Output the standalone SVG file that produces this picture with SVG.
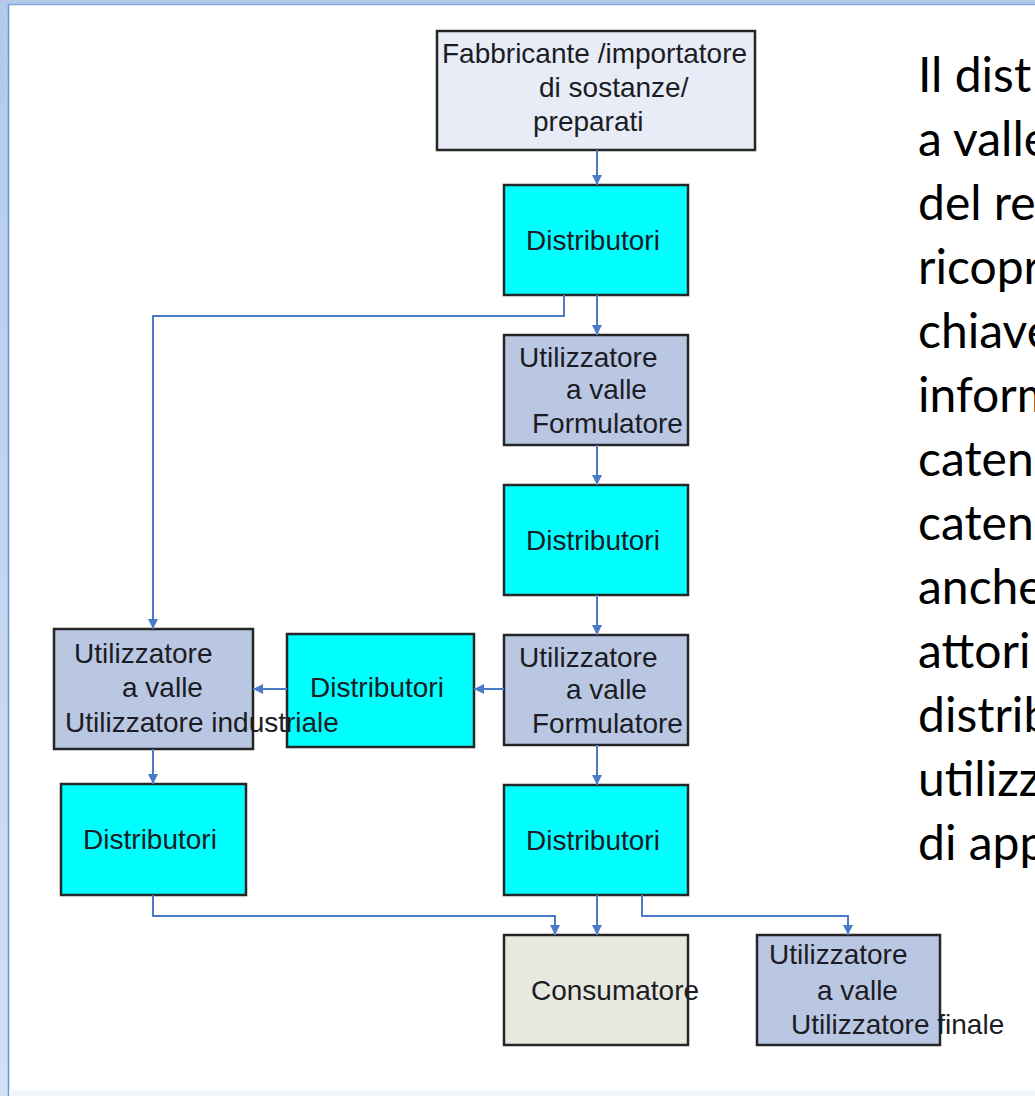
<svg xmlns="http://www.w3.org/2000/svg" width="1035" height="1096" viewBox="0 0 1035 1096">
  <defs>
    <marker id="ah" viewBox="0 0 10 10" refX="10" refY="5" markerWidth="10" markerHeight="10" markerUnits="userSpaceOnUse" orient="auto">
      <path d="M0,0 L10,5 L0,10 z" fill="#4A7BC8"/>
    </marker>
    <linearGradient id="edge" x1="0" y1="0" x2="0" y2="1">
      <stop offset="0" stop-color="#B4CAEB"/>
      <stop offset="1" stop-color="#D3E0F4"/>
    </linearGradient>
    <style>
      .box { stroke: #262626; stroke-width: 2.5; }
      .cyan { fill: #00FFFF; }
      .lav { fill: #B9C7E3; }
      .pale { fill: #E8ECF6; }
      .beige { fill: #E8E9DE; }
      .t { font-family: "Liberation Sans", Arial, sans-serif; font-size: 28px; fill: #1C1C24; }
      .c { text-anchor: middle; }
      .side { font-family: Lato, "Open Sans", sans-serif; font-size: 48px; fill: #000; }
      .conn { fill: none; stroke: #4A7BC8; stroke-width: 2; }
    </style>
  </defs>

  <rect x="0" y="0" width="1035" height="1096" fill="#FFFFFF"/>
  <g id="frame">
    <rect x="0" y="0" width="8" height="1096" fill="url(#edge)"/>
    <rect x="0" y="0" width="1035" height="4" fill="#B4CAEB"/>
    <line x1="8.5" y1="4" x2="8.5" y2="1096" stroke="#5E95DC" stroke-width="1.5"/>
    <line x1="8" y1="4.5" x2="1035" y2="4.5" stroke="#7FA8E0" stroke-width="1.5"/>
    <rect x="9" y="1090" width="1026" height="6" fill="#F3F6FB"/>
  </g>

  <g id="node-fabbricante">
    <rect class="box pale" x="437" y="31" width="318" height="119"/>
    <text class="t" x="442" y="63">Fabbricante /importatore</text>
    <text class="t" x="539" y="97">di sostanze/</text>
    <text class="t" x="533" y="131">preparati</text>
  </g>

  <g id="node-distributori-1">
    <rect class="box cyan" x="504" y="185" width="184" height="110"/>
    <text class="t c" x="593" y="250">Distributori</text>
  </g>

  <g id="node-formulatore-1">
    <rect class="box lav" x="504" y="335" width="184" height="110"/>
    <text class="t" x="519" y="367">Utilizzatore</text>
    <text class="t" x="566" y="399">a valle</text>
    <text class="t" x="532" y="433">Formulatore</text>
  </g>

  <g id="node-distributori-2">
    <rect class="box cyan" x="504" y="485" width="184" height="110"/>
    <text class="t c" x="593" y="550">Distributori</text>
  </g>

  <g id="node-formulatore-2">
    <rect class="box lav" x="504" y="635" width="184" height="110"/>
    <text class="t" x="519" y="667">Utilizzatore</text>
    <text class="t" x="566" y="699">a valle</text>
    <text class="t" x="532" y="733">Formulatore</text>
  </g>

  <g id="node-distributori-mid">
    <rect class="box cyan" x="287" y="634" width="187" height="113"/>
    <text class="t c" x="377" y="697">Distributori</text>
  </g>

  <g id="node-utilizzatore-industriale">
    <rect class="box lav" x="54" y="629" width="199" height="120"/>
    <text class="t" x="74" y="663">Utilizzatore</text>
    <text class="t" x="122" y="697">a valle</text>
    <text class="t" x="65" y="732">Utilizzatore industriale</text>
  </g>

  <g id="node-distributori-left">
    <rect class="box cyan" x="61" y="784" width="185" height="111"/>
    <text class="t c" x="150" y="849">Distributori</text>
  </g>

  <g id="node-distributori-3">
    <rect class="box cyan" x="504" y="785" width="184" height="110"/>
    <text class="t c" x="593" y="850">Distributori</text>
  </g>

  <g id="node-consumatore">
    <rect class="box beige" x="504" y="935" width="184" height="110"/>
    <text class="t" x="531" y="1000">Consumatore</text>
  </g>

  <g id="node-utilizzatore-finale">
    <rect class="box lav" x="757" y="935" width="183" height="110"/>
    <text class="t" x="769" y="964">Utilizzatore</text>
    <text class="t" x="817" y="1000">a valle</text>
    <text class="t" x="791" y="1034">Utilizzatore finale</text>
  </g>

  <g id="connectors">
    <path class="conn" marker-end="url(#ah)" d="M597,150 V185"/>
    <path class="conn" marker-end="url(#ah)" d="M597,295 V335"/>
    <path class="conn" marker-end="url(#ah)" d="M564,295 V316 H153 V629"/>
    <path class="conn" marker-end="url(#ah)" d="M597,445 V485"/>
    <path class="conn" marker-end="url(#ah)" d="M597,595 V635"/>
    <path class="conn" marker-end="url(#ah)" d="M504,689 H474"/>
    <path class="conn" marker-end="url(#ah)" d="M287,689 H253"/>
    <path class="conn" marker-end="url(#ah)" d="M153,749 V784"/>
    <path class="conn" marker-end="url(#ah)" d="M597,745 V785"/>
    <path class="conn" marker-end="url(#ah)" d="M153,895 V916 H555 V935"/>
    <path class="conn" marker-end="url(#ah)" d="M597,895 V935"/>
    <path class="conn" marker-end="url(#ah)" d="M642,895 V916 H848 V935"/>
  </g>

  <g id="side-text">
    <text class="side" x="918" y="92">Il dist</text>
    <text class="side" x="918" y="156">a valle</text>
    <text class="side" x="918" y="220">del re</text>
    <text class="side" x="918" y="284">ricopr</text>
    <text class="side" x="918" y="348">chiave</text>
    <text class="side" x="918" y="412">inform</text>
    <text class="side" x="918" y="476">caten</text>
    <text class="side" x="918" y="540">caten</text>
    <text class="side" x="918" y="604">anche</text>
    <text class="side" x="918" y="668">attori</text>
    <text class="side" x="918" y="732">distrib</text>
    <text class="side" x="918" y="796">utilizz</text>
    <text class="side" x="918" y="860">di app</text>
  </g>
</svg>
